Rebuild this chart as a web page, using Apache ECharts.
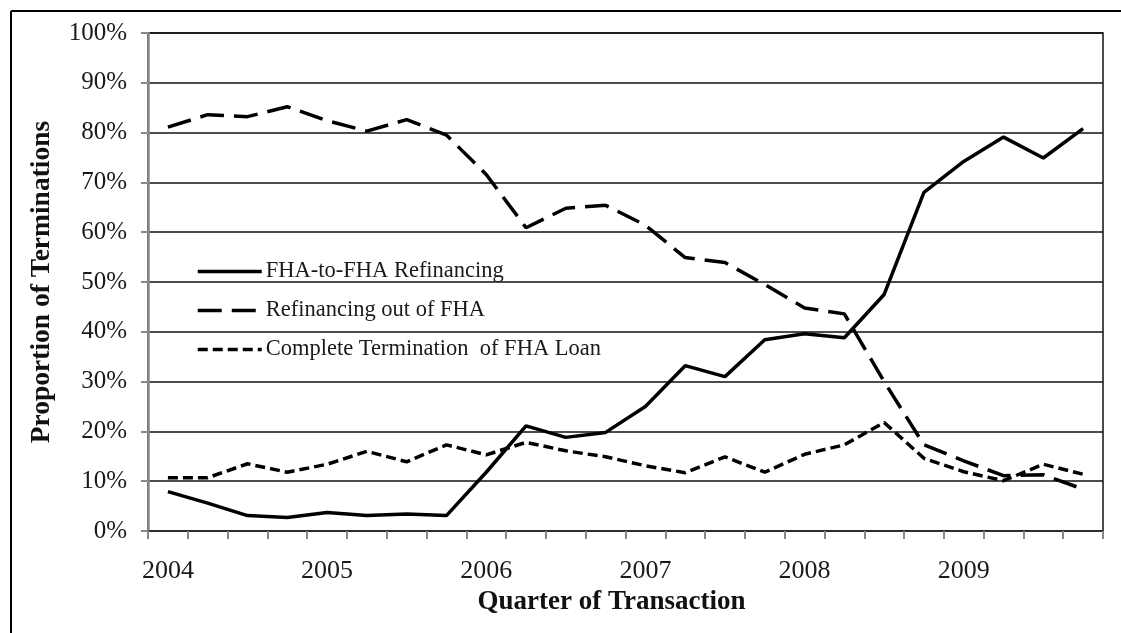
<!DOCTYPE html>
<html>
<head>
<meta charset="UTF-8">
<title>FHA terminations</title>
<script src="https://cdn.jsdelivr.net/npm/echarts@6/dist/echarts.min.js"></script>
<style>
	body { margin: 0; background: #fff; }
	#chart { width: 1121px; height: 633px; }
</style>
<script type="text/javascript">

	// quarters 2004Q1 .. 2009Q4
	var quarters = ['2004Q1', '2004Q2', '2004Q3', '2004Q4', '2005Q1', '2005Q2', '2005Q3', '2005Q4',
	                '2006Q1', '2006Q2', '2006Q3', '2006Q4', '2007Q1', '2007Q2', '2007Q3', '2007Q4',
	                '2008Q1', '2008Q2', '2008Q3', '2008Q4', '2009Q1', '2009Q2', '2009Q3', '2009Q4'];

	var fhaToFha = [7.9, 5.6, 3.1, 2.7, 3.7, 3.1, 3.4, 3.1,
	                11.8, 21.1, 18.8, 19.8, 25.0, 33.2, 31.0, 38.4,
	                39.6, 38.8, 47.5, 68.0, 74.2, 79.1, 74.9, 80.8];

	var outOfFha = [81.1, 83.6, 83.2, 85.2, 82.4, 80.3, 82.6, 79.5,
	                71.6, 60.9, 64.8, 65.4, 61.4, 54.9, 53.9, 49.5,
	                44.8, 43.6, 30.0, 17.3, 14.1, 11.1, 11.3, 8.4];

	var completeTerm = [10.7, 10.7, 13.5, 11.8, 13.4, 16.0, 13.9, 17.3,
	                    15.3, 17.8, 16.1, 14.9, 13.1, 11.7, 14.9, 11.8,
	                    15.4, 17.3, 21.8, 14.6, 11.9, 10.1, 13.4, 11.4];

	var seriesNames = ['FHA-to-FHA Refinancing', 'Refinancing out of FHA', 'Complete Termination  of FHA Loan'];

	var serif = '"Liberation Serif", "DejaVu Serif", serif';

	function init() {
		var chart = echarts.init(document.getElementById('chart'));

		var option = {
			animation : false,
			backgroundColor : '#fff',
			textStyle : { fontFamily : serif, color : '#1a1a1a' },
			graphic : [
				{ type : 'line', shape : { x1 : 11, y1 : 11, x2 : 1121, y2 : 11 }, style : { stroke : '#000', lineWidth : 2 } },
				{ type : 'line', shape : { x1 : 11, y1 : 11, x2 : 11, y2 : 633 }, style : { stroke : '#000', lineWidth : 2 } }
			],
			legend : {
				orient : 'vertical',
				left : 191,
				top : 255,
				itemWidth : 64,
				itemHeight : 14,
				itemGap : 16,
				data : seriesNames,
				itemStyle : { opacity : 0 },
				lineStyle : { width : 3.5 },
				textStyle : { fontFamily : serif, fontSize : 22.5, color : '#1a1a1a', padding : [0, 0, 0, -1] }
			},
			grid : {
				left : 148,
				right : 18,
				top : 33,
				bottom : 102,
				show : true,
				borderColor : '#111',
				borderWidth : 1.5
			},
			xAxis : {
				type : 'category',
				data : quarters,
				boundaryGap : true,
				name : 'Quarter of Transaction',
				nameLocation : 'middle',
				nameGap : 55,
				nameTextStyle : { fontFamily : serif, fontSize : 27, fontWeight : 'bold', color : '#111', padding : [0, 28, 0, 0] },
				axisLine : { show : true, lineStyle : { color : '#333', width : 1.5 } },
				axisTick : { show : true, interval : 0, length : 8, lineStyle : { color : '#888', width : 2 } },
				axisLabel : {
					interval : 3,
					margin : 27,
					fontSize : 26,
					color : '#1a1a1a',
					formatter : function (v) { return v.slice(0, 4); }
				},
				splitLine : { show : false }
			},
			yAxis : {
				type : 'value',
				min : 0,
				max : 100,
				interval : 10,
				name : 'Proportion of Terminations',
				nameLocation : 'middle',
				nameGap : 92,
				nameTextStyle : { fontFamily : serif, fontSize : 27.5, fontWeight : 'bold', color : '#111' },
				axisLine : { show : true, lineStyle : { color : '#888', width : 2.5 } },
				axisTick : { show : true, length : 7, lineStyle : { color : '#888', width : 2 } },
				axisLabel : { formatter : '{value}%', margin : 21, fontSize : 25, color : '#1a1a1a' },
				splitLine : { show : true, lineStyle : { color : '#111', width : 1.5 } }
			},
			series : [ {
				name : seriesNames[0],
				type : 'line',
				data : fhaToFha,
				symbol : 'none',
				lineStyle : { color : '#000', width : 3.5 },
				itemStyle : { color : '#000' }
			}, {
				name : seriesNames[1],
				type : 'line',
				data : outOfFha,
				symbol : 'none',
				lineStyle : { color : '#000', width : 3.5, type : [24, 10] },
				itemStyle : { color : '#000' }
			}, {
				name : seriesNames[2],
				type : 'line',
				data : completeTerm,
				symbol : 'none',
				lineStyle : { color : '#000', width : 3.5, type : [10, 5] },
				itemStyle : { color : '#000' }
			} ]
		};

		chart.setOption(option);
	}

	window.onload = function() {
		init();
	}
</script>
</head>
<body>
	<div id="chart"></div>
</body>
</html>
